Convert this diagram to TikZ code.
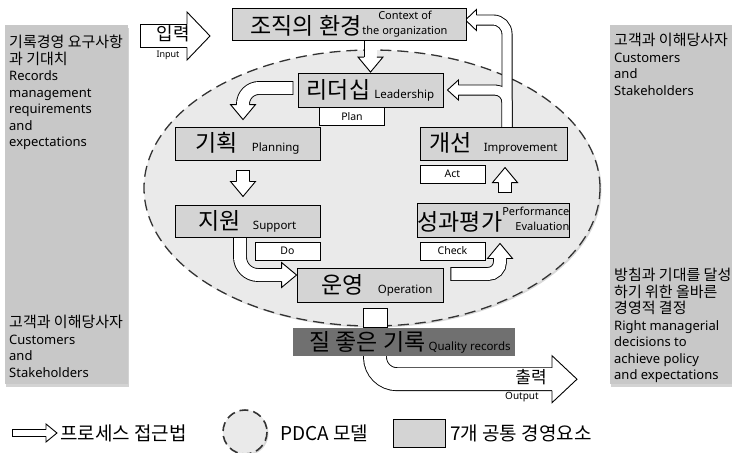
\documentclass[tikz,border=0pt]{standalone}
\usepackage{fontspec}
\setmainfont{Noto Sans}
\newfontfamily\krfont{Noto Sans CJK KR}
\usetikzlibrary{calc,shadows}

\definecolor{ellbg}{RGB}{234,234,234}
\definecolor{boxbg}{RGB}{212,212,212}
\definecolor{sidebg}{RGB}{200,200,200}
\definecolor{qualbg}{RGB}{112,112,112}

\pgfdeclarelayer{background}
\pgfsetlayers{background,main}

\newcommand{\elemkr}{\fontsize{23}{25}\selectfont\krfont}
\newcommand{\elemen}{\fontsize{11.5}{15}\selectfont}
\newcommand{\sidekr}{\fontsize{15}{16.5}\selectfont\krfont}
\newcommand{\legkr}{\fontsize{19}{21}\selectfont\krfont}

% hollow arrow head: base point, angle, half shaft, half head, length
\newcommand{\bhead}[5]{%
	\filldraw[fill=white, line width=0.9pt, shift={(#1)}, rotate=#2]
		(0,#3) -- (0,#4) -- (#5,0) -- (0,-#4) -- (0,-#3);}

\tikzset{
	elem/.style={draw, line width=0.9pt, fill=boxbg, inner sep=0pt},
	phase/.style={draw, line width=0.9pt, fill=white, minimum width=65pt,
		minimum height=18pt, inner sep=0pt, font=\fontsize{10.5}{12}\selectfont},
	side/.style={fill=sidebg, inner sep=0pt,
		drop shadow={shadow xshift=1pt, shadow yshift=-3pt, opacity=0.35}},
	sidetext/.style={anchor=north west, inner sep=0pt, align=left,
		font=\fontsize{13}{16.5}\selectfont},
	pdca/.style={fill=ellbg, draw=black!80, line width=1.3pt,
		dash pattern=on 11pt off 6pt,
		drop shadow={shadow xshift=1.5pt, shadow yshift=-1.5pt, opacity=0.3}},
	flow/.style={line width=0.9pt, double=white, double distance=12pt,
		line cap=rect, rounded corners=13pt},
	bigflow/.style={line width=0.9pt, double=white, double distance=22pt,
		line cap=rect, rounded corners=22pt},
	branchout/.style={line width=11pt, line cap=rect, rounded corners=14pt},
	branchin/.style={white, line width=9.2pt, line cap=rect, rounded corners=14pt},
}

\begin{document}
\begin{tikzpicture}[x=1pt, y=-1pt]
	\useasboundingbox (0,0) rectangle (732,453);

	\begin{pgfonlayer}{background}
		\draw[pdca] (372,188) ellipse [x radius=228, y radius=138];
	\end{pgfonlayer}

	% the seven elements
	\node[elem, minimum width=234pt, minimum height=32pt] (ctx) at (349,24)
		{{\elemkr 조직의 환경}\hspace{1pt}{\fontsize{11}{15}\selectfont\begin{tabular}[b]{@{}c@{}}Context of\\the organization\end{tabular}}};
	\node[elem, minimum width=145pt, minimum height=34pt] (lead) at (370.5,90)
		{{\elemkr 리더십}\hspace{4pt}{\elemen Leadership}};
	\node[elem, minimum width=145pt, minimum height=33pt] (plan) at (247.5,143.5)
		{{\elemkr 기획}\hspace{14pt}{\elemen Planning}};
	\node[elem, minimum width=145pt, minimum height=32pt] (supp) at (247.5,221)
		{{\elemkr 지원}\hspace{12pt}{\elemen Support}};
	\node[elem, minimum width=146pt, minimum height=34pt] (oper) at (370,285)
		{\hspace*{14pt}{\elemkr 운영}\hspace{14pt}{\elemen Operation}};
	\node[elem, minimum width=147pt, minimum height=34pt] (eval) at (493.5,220)
		{{\elemkr 성과평가}{\fontsize{11}{15}\selectfont\begin{tabular}[b]{@{}r@{}}Performance\\Evaluation\end{tabular}}};
	\node[elem, minimum width=147pt, minimum height=33pt] (impr) at (493.5,143.5)
		{{\elemkr 개선}\hspace{12pt}{\elemen Improvement}};
	\node[fill=qualbg, minimum width=222pt, minimum height=28pt, inner sep=0pt] (qual) at (404,342)
		{\hspace*{12pt}{\elemkr 질 좋은 기록}\hspace{3pt}{\elemen Quality records}};

	\node[phase] (pplan) at (352,116.5) {Plan};
	\node[phase] (pdo) at (287.5,251) {Do};
	\node[phase] (pcheck) at (452.5,251) {Check};
	\node[phase] (pact) at (452.5,174) {Act};

	% process arrows, kept under the boxes
	\begin{pgfonlayer}{background}
		\draw[flow] (lead.north |- ctx.south) -- ($(lead.north)+(0,-15.5)$);
		\bhead{$(lead.north)+(0,-15.5)$}{-90}{6.45}{12.5}{15}

		\draw[flow, rounded corners=16pt] ($(lead.west)+(-11,-2)$) -| ($(plan.north)+(-4.5,-22)$);
		\bhead{$(plan.north)+(-4.5,-22)$}{-90}{6.45}{12.5}{15}

		\draw[flow] ($(plan.south)+(-4.5,16.9)$) -- ($(plan.south)+(-4.5,21)$);
		\bhead{$(plan.south)+(-4.5,21)$}{-90}{6.45}{12.5}{15}

		\draw[flow, rounded corners=18pt] ($(supp.south)+(-7.5,0)$) |- ($(oper.west)+(-15,-10)$);
		\bhead{$(oper.west)+(-15,-10)$}{0}{6.45}{12.5}{15}

		\draw[flow, rounded corners=12pt] ($(oper.east)+(13.9,-11)$) -| ($(eval.south)+(6.5,21)$);
		\bhead{$(eval.south)+(6.5,21)$}{90}{6.45}{12.5}{15}

		\draw[flow] ($(eval.north)+(11.5,-16.9)$) -- ($(eval.north)+(11.5,-20)$);
		\bhead{$(eval.north)+(11.5,-20)$}{90}{6.45}{12.5}{15}

		\draw[branchout] ($(impr.north)+(13.5,0)$) |- ($(ctx.east)+(10,-4)$);
		\draw[branchout, rounded corners=12pt] ($(impr.north)+(13.5,0)$) |- ($(lead.east)+(15,0)$);
		\draw[branchin] ($(impr.north)+(13.5,0)$) |- ($(ctx.east)+(10,-4)$);
		\draw[branchin, rounded corners=12pt] ($(impr.north)+(13.5,0)$) |- ($(lead.east)+(15,0)$);
		\bhead{$(ctx.east)+(10,-4)$}{180}{5.05}{10.5}{11}
		\bhead{$(lead.east)+(15,0)$}{180}{5.05}{10}{11}

		\draw[line width=0.9pt, fill=white] ($(oper.south)+(-7,6)$) rectangle ($(qual.north)+(-17,0)$);

		\draw[bigflow] ($(qual.south)+(-29,0)$) |- ($(qual.south)+(148,23)$);
		\bhead{$(qual.south)+(148,23)$}{0}{11.45}{23.5}{25}
	\end{pgfonlayer}
	\node (outkr) at (531,377) {\fontsize{17}{19}\selectfont\krfont 출력};
	\node (outen) at (522,397) {\fontsize{10}{11}\selectfont Output};

	% stakeholders on both sides
	\node[side, minimum width=123pt, minimum height=359pt] (lside) at (66.5,204.5) {};
	\node[side, minimum width=124pt, minimum height=359pt] (rside) at (672,204.5) {};
	\node[sidetext] (ltop) at (9,35) {{\sidekr 기록경영 요구사항}\\{\sidekr 과 기대치}\\Records\\management\\requirements\\and\\expectations};
	\node[sidetext] (lbot) at (9,315) {{\sidekr 고객과 이해당사자}\\Customers\\and\\Stakeholders};
	\node[sidetext] (rtop) at (614,33) {{\sidekr 고객과 이해당사자}\\Customers\\and\\Stakeholders};
	\node[sidetext] (rbot) at (614,268) {{\sidekr 방침과 기대를 달성}\\{\sidekr 하기 위한 올바른}\\{\sidekr 경영적 결정}\\Right managerial\\decisions to\\achieve policy\\and expectations};

	% input
	\draw[bigflow] (151.9,36) -- (187,36);
	\bhead{187,36}{0}{11.45}{24}{23}
	\node (inkr) at (173,34) {\fontsize{18}{20}\selectfont\krfont 입력};
	\node (inen) at (168,55) {\fontsize{9}{10}\selectfont Input};

	% legend
	\draw[line width=0.9pt, double=white, double distance=6pt, line cap=rect] (15.9,433) -- (46,433);
	\bhead{46,433}{0}{3.45}{9}{11}
	\node[anchor=west, inner sep=0pt] (lgproc) at (60,433) {\legkr 프로세스 접근법};
	\draw[pdca, line width=1.6pt, dash pattern=on 9pt off 5pt] (245,432) circle [radius=22];
	\node[anchor=west, inner sep=0pt] (lgpdca) at (280,433) {\legkr PDCA 모델};
	\node[elem, minimum width=52pt, minimum height=28pt] (lgbox) at (419,433) {};
	\node[anchor=west, inner sep=0pt] (lgelem) at (450,433) {\legkr 7개 공통 경영요소};
\end{tikzpicture}
\end{document}
